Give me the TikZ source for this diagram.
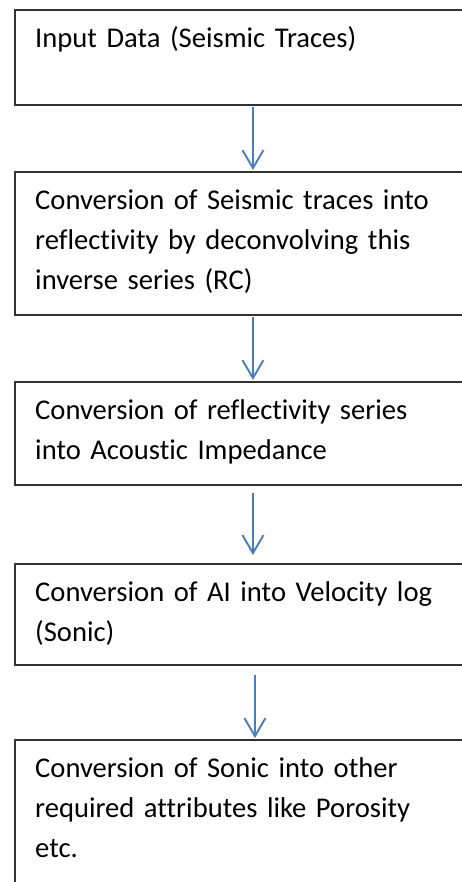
\documentclass[tikz,border=0pt]{standalone}
\usepackage{fontspec}
\setmainfont[Ligatures=NoCommon]{Carlito}
\usetikzlibrary{arrows.meta}
\definecolor{arrowblue}{RGB}{74,126,187}
\definecolor{boxline}{RGB}{50,50,50}
\tikzset{
  flowbox/.style={draw=boxline, line width=1.9pt, rectangle, inner sep=0pt, minimum width=476pt, anchor=north west},
  boxtext/.style={anchor=north west, inner sep=0pt, text width=425pt, align=left, font=\fontsize{28.6}{40}\selectfont},
  flowarrow/.style={draw=arrowblue, line width=1.9pt, -{Straight Barb[length=18pt,width=21pt,line width=1.9pt]}}
}
\newcommand{\firstline}{\rule{0pt}{38.5pt}}
\begin{document}
\begin{tikzpicture}[x=1pt,y=-1pt]
\useasboundingbox (0,0) rectangle (462,882);
\node[flowbox, minimum height=95pt] (b1) at (14,9) {};
\node[flowbox, minimum height=143pt] (b2) at (14,171) {};
\node[flowbox, minimum height=103pt] (b3) at (14,381) {};
\node[flowbox, minimum height=101pt] (b4) at (14,563) {};
\node[flowbox, minimum height=170pt] (b5) at (14,739) {};
\node[boxtext] (t1) at (35,9) {\firstline Input Data (Seismic Traces)};
\node[boxtext] (t2) at (35,171) {\firstline Conversion of Seismic traces into\\reflectivity by deconvolving this\\inverse series (RC)};
\node[boxtext] (t3) at (35,381) {\firstline Conversion of reflectivity series\\into Acoustic Impedance};
\node[boxtext] (t4) at (35,563) {\firstline Conversion of AI into Velocity log\\(Sonic)};
\node[boxtext] (t5) at (35,739) {\firstline Conversion of Sonic into other\\required attributes like Porosity\\etc.};
\draw[flowarrow, shorten <=1pt, shorten >=1pt] (b1.south) -- (b2.north);
\draw[flowarrow, shorten <=1pt, shorten >=1pt] (b2.south) -- (b3.north);
\draw[flowarrow, shorten <=7pt, shorten >=8pt] (b3.south) -- (b4.north);
\draw[flowarrow, shorten <=9pt, shorten >=1pt] ([xshift=2pt]b4.south) -- ([xshift=2pt]b5.north);
\end{tikzpicture}
\end{document}
